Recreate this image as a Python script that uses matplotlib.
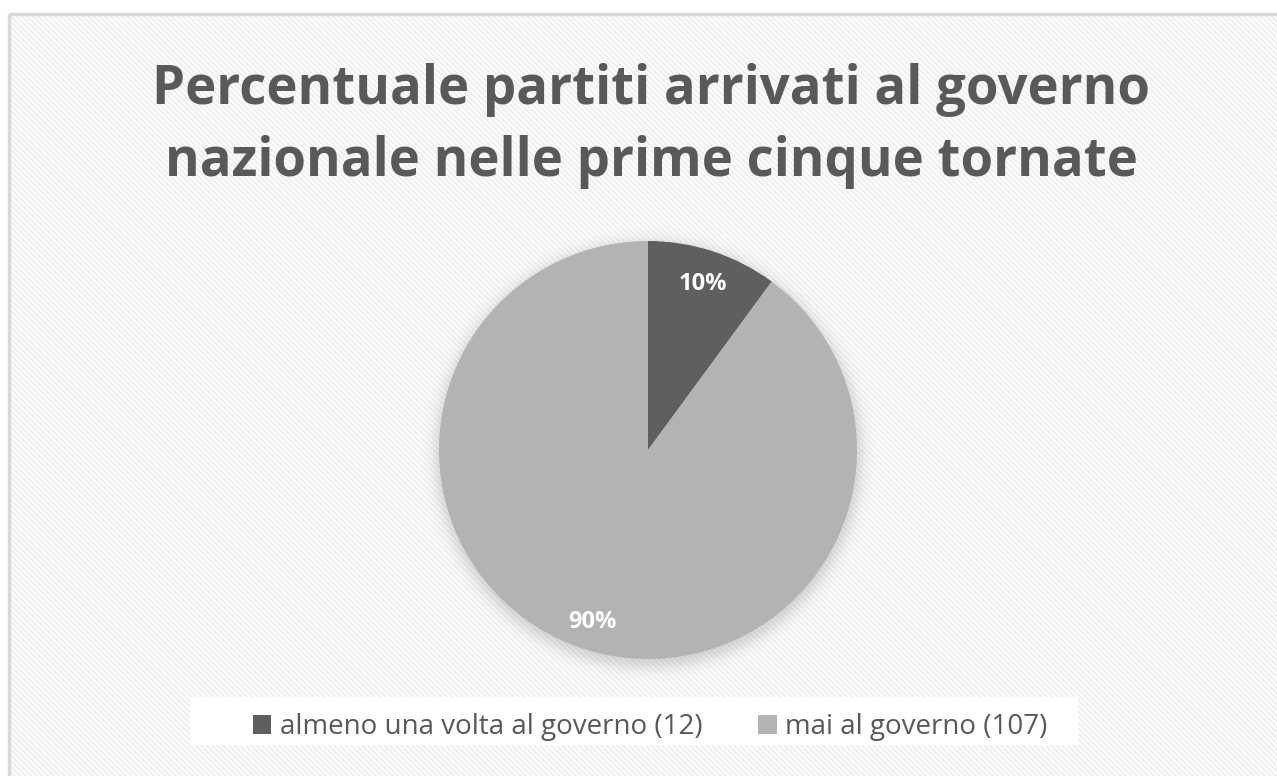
import numpy as np
import matplotlib
matplotlib.use("Agg")
import matplotlib.pyplot as plt
from matplotlib.patches import Rectangle, Patch

# party counts: at least once in government vs never
labels = ["almeno una volta al governo (12)", "mai al governo (107)"]
counts = [12, 107]
colors = ["#5f5f5f", "#b3b3b3"]
title = "Percentuale partiti arrivati al governo\nnazionale nelle prime cinque tornate"

W, H = 1277, 776
fig = plt.figure(figsize=(W / 100, H / 100), dpi=100)
fig.patch.set_facecolor("white")

# background axes in pixel coordinates
bg = fig.add_axes([0, 0, 1, 1])
bg.set_xlim(0, W)
bg.set_ylim(H, 0)
bg.axis("off")

plt.rcParams["hatch.linewidth"] = 1.5
bg.add_patch(Rectangle((9, 14), W, H, facecolor="white", edgecolor="#efefef",
                       hatch="\\" * 6, linewidth=0))
bg.add_patch(Rectangle((9, 14), W, H, facecolor="none", edgecolor="#d9d9d9", linewidth=2.5))

# soft shadow under the pie
cx, cy, r = 648, 450, 209
yy, xx = np.mgrid[0:H, 0:W]
d = np.hypot(xx - cx, yy - (cy + 4))
a = np.where(d > r - 5, 0.32 * np.exp(-((d - (r - 5)) / 12.0) ** 2), 0.32)
shadow = np.zeros((H, W, 4))
shadow[..., :3] = 0.55
shadow[..., 3] = a
bg.imshow(shadow, extent=(0, W, H, 0), zorder=2, interpolation="bilinear")

# legend backing
bg.add_patch(Rectangle((190, 697), 888, 48, facecolor="white", edgecolor="none", zorder=3))

bg.text(651, 126, title, ha="center", va="center", fontsize=38, fontweight="bold",
        color="#595959", family="Open Sans", linespacing=1.45, zorder=4)

# pie axes placed over the shadow
pax = fig.add_axes([(cx - r) / W, (H - cy - r) / H, 2 * r / W, 2 * r / H])
wedges, texts, autotexts = pax.pie(counts, colors=colors, startangle=90, counterclock=False,
                                   autopct="%1.0f%%", pctdistance=0.85,
                                   wedgeprops=dict(linewidth=0),
                                   textprops=dict(color="white", fontsize=17, fontweight="bold",
                                                  family="Open Sans"))
for t in autotexts:
    t.set_va("center_baseline")
pax.set_xlim(-1, 1)
pax.set_ylim(-1, 1)
pax.axis("off")

handles = [Patch(facecolor=c, edgecolor="none") for c in colors]
fig.legend(handles, labels, loc="center", bbox_to_anchor=(650 / W, 1 - 727 / H), ncol=2,
           frameon=False, prop=dict(family="Open Sans", size=20), labelcolor="#595959",
           handlelength=0.68, handleheight=0.68, handletextpad=0.3, columnspacing=2.0)

fig.savefig("out.png", dpi=100)
